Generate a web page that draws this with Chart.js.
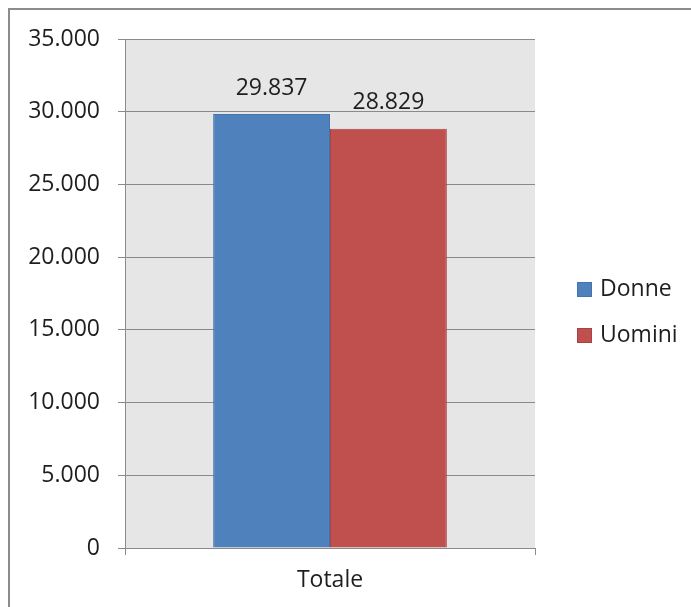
<!DOCTYPE html>
<html>
<head>
<meta charset="utf-8">
<script src="https://cdn.jsdelivr.net/npm/chart.js@4"></script>
<style>
  html, body { margin: 0; padding: 0; background: #fff; overflow: hidden; }
  #frame {
    position: absolute; left: 8px; top: 8px; width: 720px; height: 640px;
    border: 2px solid #8c8c8c; box-sizing: border-box;
  }
  #wrap { position: absolute; left: 0; top: 0; width: 691px; height: 607px; }
</style>
</head>
<body>
<div id="frame"></div>
<div id="wrap"><canvas id="barChart"></canvas></div>
<script>
const categories = ['Totale'];
const seriesNames = ['Donne', 'Uomini'];
const donne = [29837];
const uomini = [28829];
const yTicks = [0, 5000, 10000, 15000, 20000, 25000, 30000, 35000];

const colors = {
    Donne: { fill: '#4f81bd', line: '#4474ae' },
    Uomini: { fill: '#c0504d', line: '#a84341' }
};

// 29837 -> "29.837"
const fmt = v => String(v).replace(/\B(?=(\d{3})+(?!\d))/g, '.');

Chart.defaults.font.family = "'Open Sans', 'Noto Sans', sans-serif";
Chart.defaults.font.size = 23;
Chart.defaults.color = '#1e1e1e';

const plotBackground = {
    id: 'plotBackground',
    beforeDraw(chart) {
        const { ctx, chartArea: a } = chart;
        ctx.save();
        ctx.fillStyle = '#e6e6e6';
        ctx.fillRect(a.left, a.top, a.right - a.left, a.bottom - a.top);
        ctx.restore();
    }
};

const valueLabels = {
    id: 'valueLabels',
    afterDatasetsDraw(chart) {
        const ctx = chart.ctx;
        ctx.save();
        ctx.font = "23px 'Open Sans'";
        ctx.fillStyle = '#1e1e1e';
        ctx.textAlign = 'center';
        ctx.textBaseline = 'middle';
        chart.data.datasets.forEach((ds, i) => {
            chart.getDatasetMeta(i).data.forEach((bar, j) => {
                ctx.fillText(fmt(ds.data[j]), bar.x, bar.y - 26);
            });
        });
        ctx.restore();
    }
};

const sideLegend = {
    id: 'sideLegend',
    afterDraw(chart) {
        const ctx = chart.ctx;
        ctx.save();
        ctx.font = "23px 'Open Sans'";
        ctx.textBaseline = 'middle';
        chart.data.datasets.forEach((ds, i) => {
            const y = 289 + i * 46;
            ctx.fillStyle = ds.backgroundColor;
            ctx.fillRect(577, y - 7, 15, 15);
            ctx.strokeStyle = ds.borderColor;
            ctx.lineWidth = 1;
            ctx.strokeRect(577.5, y - 6.5, 14, 14);
            ctx.fillStyle = '#1e1e1e';
            ctx.fillText(ds.label, 600, y);
        });
        ctx.restore();
    }
};

const ctx = document.getElementById('barChart');

new Chart(ctx, {
    type: 'bar',
    data: {
        labels: categories,
        datasets: [
            {
                label: seriesNames[0],
                data: donne,
                backgroundColor: colors.Donne.fill,
                borderColor: colors.Donne.line,
                borderWidth: 1
            },
            {
                label: seriesNames[1],
                data: uomini,
                backgroundColor: colors.Uomini.fill,
                borderColor: colors.Uomini.line,
                borderWidth: 1
            }
        ]
    },
    options: {
        responsive: true,
        maintainAspectRatio: false,
        animation: false,
        layout: { padding: { top: 39, right: 156, bottom: 0, left: 0 } },
        datasets: {
            bar: { barPercentage: 1, categoryPercentage: 0.57 }
        },
        plugins: {
            legend: { display: false },
            tooltip: { enabled: false }
        },
        scales: {
            x: {
                afterFit: s => { s.height = 59; },
                grid: {
                    offset: true,
                    drawOnChartArea: false,
                    tickLength: 7,
                    tickColor: '#8a8a8a'
                },
                border: { color: '#8a8a8a' },
                ticks: { padding: 12 }
            },
            y: {
                min: 0,
                max: 35000,
                afterFit: s => { s.width = 125; },
                afterBuildTicks: s => { s.ticks = yTicks.map(v => ({ value: v })); },
                grid: { color: '#8a8a8a', tickLength: 7, tickColor: '#8a8a8a' },
                border: { color: '#8a8a8a' },
                ticks: { padding: 18, callback: v => fmt(v) }
            }
        }
    },
    plugins: [plotBackground, valueLabels, sideLegend]
});
</script>
</body>
</html>
